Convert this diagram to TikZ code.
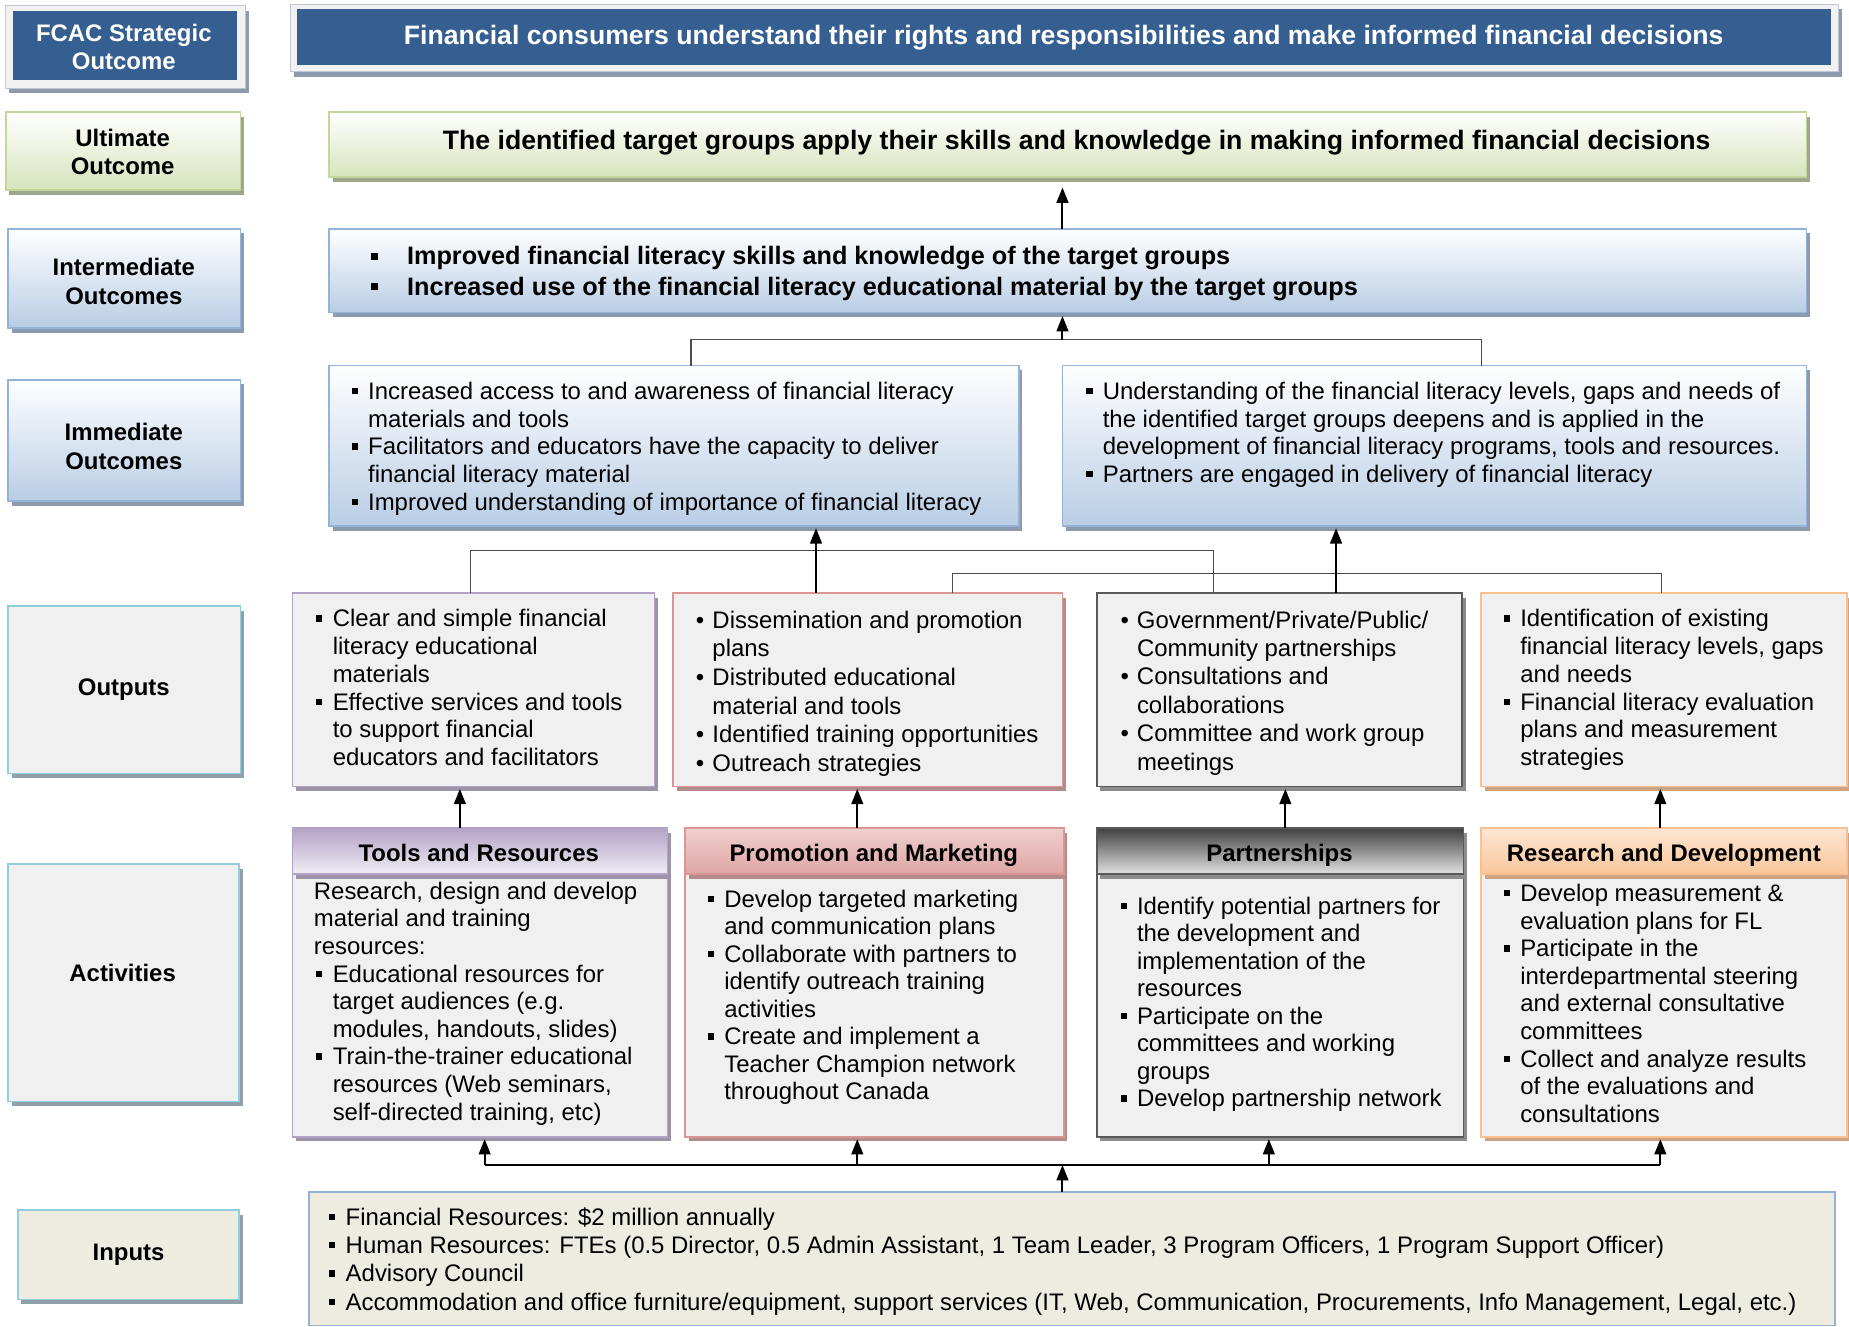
\documentclass[tikz,border=0pt]{standalone}
\usepackage{fontspec}
\setmainfont{Liberation Sans}
\usetikzlibrary{arrows.meta,shadows,calc}

\definecolor{fcacblue}{HTML}{365F91}
\definecolor{framegray}{HTML}{F2F2F2}
\definecolor{frameedge}{HTML}{BFC7D5}
\definecolor{shadowgray}{HTML}{8D9AAD}
\definecolor{greenedge}{HTML}{C3D69B}
\definecolor{greenfill}{HTML}{D7E4BD}
\definecolor{greenshadow}{HTML}{9FA78A}
\definecolor{blueedge}{HTML}{95B3D7}
\definecolor{bluefill}{HTML}{B9CDE5}
\definecolor{tealedge}{HTML}{92CDDC}
\definecolor{tealshadow}{HTML}{8FA0AA}
\definecolor{beigefill}{HTML}{EEECE1}
\definecolor{boxgray}{HTML}{F0F0F0}
\definecolor{purpedge}{HTML}{B3A2C7}
\definecolor{purpshadow}{HTML}{9D94AA}
\definecolor{rededge}{HTML}{D99694}
\definecolor{redshadow}{HTML}{B38B8A}
\definecolor{darkedge}{HTML}{595959}
\definecolor{darkshadow}{HTML}{8C8C8C}
\definecolor{orangeedge}{HTML}{FAC090}
\definecolor{orangeshadow}{HTML}{CFA283}

\newcommand\sqb{\makebox[14pt][l]{\raisebox{0.22em}{\rule{0.26em}{0.26em}}}}
\newcommand\bigsq{\makebox[31pt][l]{\raisebox{0.2em}{\rule{0.28em}{0.28em}}}}
\newcommand\rdb{\makebox[14pt][l]{•}}
\newcommand\ind{\hspace*{14pt}}

\tikzset{
  bx/.style={anchor=north west, inner sep=0pt, outer sep=0pt},
  sh/.style={general shadow={fill=#1, shadow xshift=3pt, shadow yshift=-4pt}},
  lbltxt/.style={inner sep=0pt, align=center, font=\bfseries\fontsize{20.3}{23.5}\selectfont},
  txt/.style={anchor=north west, inner sep=0pt, align=left, font=\fontsize{20.3}{23.5}\selectfont},
  arr/.style={draw=black, line width=1.7pt, -{Triangle[length=13pt,width=10pt]}},
  thinline/.style={draw=black!70, line width=0.9pt},
  botline/.style={draw=black, line width=1.4pt},
  bluebox/.style={bx, top color=white, bottom color=bluefill, draw=blueedge, line width=1.5pt, sh=shadowgray},
  greenbox/.style={bx, top color=white, bottom color=greenfill, draw=greenedge, line width=1.5pt, sh=greenshadow},
  graybox/.style={bx, fill=boxgray, draw=#1, line width=1.5pt},
}

\begin{document}
\begin{tikzpicture}[x=1pt,y=1pt]
\useasboundingbox (0,0) rectangle (1568,-1125);

% ---------- Strategic outcome ----------
\node[bx, minimum width=203pt, minimum height=70pt, fill=framegray, draw=frameedge, line width=0.8pt, sh=shadowgray] (fcacF) at (5,-5) {};
\node[bx, minimum width=190pt, minimum height=59pt, fill=fcacblue] (fcac) at (11,-9) {};
\node[lbltxt, text=white] (fcacT) at (105,-42.5) {\strut FCAC Strategic\\Outcome\strut};

\node[bx, minimum width=1313pt, minimum height=57pt, fill=framegray, draw=frameedge, line width=0.8pt, sh=shadowgray] (banF) at (246,-4) {};
\node[bx, minimum width=1301pt, minimum height=47pt, fill=fcacblue] (ban) at (252,-8) {};
\node[inner sep=0pt, text=white, font=\bfseries\fontsize{22.6}{27}\selectfont] (banT) at (902,-32.5) {\strut Financial consumers understand their rights and responsibilities and make informed financial decisions};

% ---------- Ultimate ----------
\node[greenbox, minimum width=199pt, minimum height=66pt] (ultL) at (5,-95) {};
\node[lbltxt] (ultLT) at (104,-131.5) {\strut Ultimate\\Outcome\strut};
\node[greenbox, minimum width=1253pt, minimum height=55pt] (ult) at (279,-95) {};
\node[inner sep=0pt, font=\bfseries\fontsize{22.6}{27}\selectfont] (ultT) at (913,-121.5) {\strut The identified target groups apply their skills and knowledge in making informed financial decisions};

% ---------- Intermediate ----------
\node[bluebox, minimum width=197pt, minimum height=84pt] (intL) at (7,-194) {};
\node[lbltxt, font=\bfseries\fontsize{20.3}{24}\selectfont] (intLT) at (105,-241) {\strut Intermediate\\Outcomes\strut};
\node[bluebox, minimum width=1253pt, minimum height=71pt] (inter) at (279,-194) {};
\node[txt, font=\bfseries\fontsize{21.4}{26}\selectfont] (interT) at (314,-206) {\bigsq\strut Improved financial literacy skills and knowledge of the target groups\\\bigsq Increased use of the financial literacy educational material by the target groups};

% ---------- Immediate ----------
\node[bluebox, minimum width=197pt, minimum height=103pt] (immL) at (7,-322) {};
\node[lbltxt, font=\bfseries\fontsize{20.3}{24}\selectfont] (immLT) at (105,-381) {\strut Immediate\\Outcomes\strut};
\node[bluebox, minimum width=585pt, minimum height=136pt] (imm1) at (279,-310) {};
\node[txt] (imm1T) at (298,-322) {\sqb\strut Increased access to and awareness of financial literacy\\\ind materials and tools\\\sqb Facilitators and educators have the capacity to deliver\\\ind financial literacy material\\\sqb Improved understanding of importance of financial literacy};
\node[bluebox, minimum width=631pt, minimum height=136pt] (imm2) at (901,-310) {};
\node[txt] (imm2T) at (921,-322) {\sqb\strut Understanding of the financial literacy levels, gaps and needs of\\\ind the identified target groups deepens and is applied in the\\\ind development of financial literacy programs, tools and resources.\\\sqb Partners are engaged in delivery of financial literacy};

% ---------- Outputs ----------
\node[graybox=tealedge, minimum width=197pt, minimum height=142pt, sh=tealshadow] (outL) at (7,-514) {};
\node[lbltxt] (outLT) at (105,-585) {\strut Outputs\strut};

\node[graybox=purpedge, minimum width=307pt, minimum height=164pt, sh=purpshadow] (out1) at (248,-503) {};
\node[txt] (out1T) at (268,-515) {\sqb\strut Clear and simple financial\\\ind literacy educational\\\ind materials\\\sqb Effective services and tools\\\ind to support financial\\\ind educators and facilitators};
\node[graybox=rededge, minimum width=330pt, minimum height=164pt, sh=redshadow] (out2) at (571,-503) {};
\node[txt, font=\fontsize{20.3}{24.3}\selectfont] (out2T) at (590,-515.5) {\rdb\strut Dissemination and promotion\\\ind plans\\\rdb Distributed educational\\\ind material and tools\\\rdb Identified training opportunities\\\rdb Outreach strategies};
\node[graybox=darkedge, minimum width=310pt, minimum height=164pt, sh=darkshadow] (out3) at (930,-503) {};
\node[txt, font=\fontsize{20.3}{24.1}\selectfont] (out3T) at (950,-515.5) {\rdb\strut Government/Private/Public/\\\ind Community partnerships\\\rdb Consultations and\\\ind collaborations\\\rdb Committee and work group\\\ind meetings};
\node[graybox=orangeedge, minimum width=310pt, minimum height=164pt, sh=orangeshadow] (out4) at (1256,-503) {};
\node[txt] (out4T) at (1275,-515) {\sqb\strut Identification of existing\\\ind financial literacy levels, gaps\\\ind and needs\\\sqb Financial literacy evaluation\\\ind plans and measurement\\\ind strategies};

% ---------- Activities ----------
\node[graybox=tealedge, minimum width=196pt, minimum height=201pt, sh=tealshadow] (actL) at (7,-733) {};
\node[lbltxt] (actLT) at (104,-828) {\strut Activities\strut};

\node[graybox=purpedge, minimum width=318pt, minimum height=262pt, sh=purpshadow] (act1) at (248,-702) {};
\node[bx, minimum width=318pt, minimum height=39pt, top color=purpedge, bottom color=purpedge!20!white, draw=purpedge, line width=1.5pt, sh=purpshadow] (act1h) at (248,-702) {};
\node[lbltxt] (act1hT) at (406,-726) {\strut Tools and Resources\strut};
\node[txt, font=\fontsize{20.3}{23.4}\selectfont] (act1T) at (268,-746) {\hspace*{-2pt}\strut Research, design and develop\\\hspace*{-2pt}material and training\\\hspace*{-2pt}resources:\\\sqb Educational resources for\\\ind target audiences (e.g.\\\ind modules, handouts, slides)\\\sqb Train-the-trainer educational\\\ind resources (Web seminars,\\\ind self-directed training, etc)};

\node[graybox=rededge, minimum width=321pt, minimum height=262pt, sh=redshadow] (act2) at (581,-702) {};
\node[bx, minimum width=321pt, minimum height=39pt, top color=rededge!45!white, bottom color=rededge!85!white, draw=rededge, line width=1.5pt, sh=redshadow] (act2h) at (581,-702) {};
\node[lbltxt] (act2hT) at (741,-726) {\strut Promotion and Marketing\strut};
\node[txt, font=\fontsize{20.3}{23.3}\selectfont] (act2T) at (600,-753) {\sqb\strut Develop targeted marketing\\\ind and communication plans\\\sqb Collaborate with partners to\\\ind identify outreach training\\\ind activities\\\sqb Create and implement a\\\ind Teacher Champion network\\\ind throughout Canada};

\node[graybox=darkedge, minimum width=311pt, minimum height=262pt, sh=darkshadow] (act3) at (930,-702) {};
\node[bx, minimum width=311pt, minimum height=39pt, top color=black!75, bottom color=black!12, draw=darkedge, line width=1.5pt, sh=darkshadow] (act3h) at (930,-702) {};
\node[lbltxt] (act3hT) at (1085,-726) {\strut Partnerships\strut};
\node[txt, font=\fontsize{20.3}{23.3}\selectfont] (act3T) at (950,-759) {\sqb\strut Identify potential partners for\\\ind the development and\\\ind implementation of the\\\ind resources\\\sqb Participate on the\\\ind committees and working\\\ind groups\\\sqb Develop partnership network};

\node[graybox=orangeedge, minimum width=310pt, minimum height=262pt, sh=orangeshadow] (act4) at (1256,-702) {};
\node[bx, minimum width=310pt, minimum height=39pt, top color=orangeedge!40!white, bottom color=orangeedge!90!white, draw=orangeedge, line width=1.5pt, sh=orangeshadow] (act4h) at (1256,-702) {};
\node[lbltxt] (act4hT) at (1411,-726) {\strut Research and Development\strut};
\node[txt, font=\fontsize{20.3}{23.4}\selectfont] (act4T) at (1275,-748) {\sqb\strut Develop measurement \&\\\ind evaluation plans for FL\\\sqb Participate in the\\\ind interdepartmental steering\\\ind and external consultative\\\ind committees\\\sqb Collect and analyze results\\\ind of the evaluations and\\\ind consultations};

% ---------- Inputs ----------
\node[bx, minimum width=188pt, minimum height=76pt, fill=beigefill, draw=tealedge, line width=1.5pt, sh=tealshadow] (inL) at (15,-1026) {};
\node[lbltxt] (inLT) at (109,-1064) {\strut Inputs\strut};
\node[bx, minimum width=1294pt, minimum height=113pt, fill=beigefill, draw=blueedge, line width=1.5pt] (inp) at (262,-1011) {};
\node[txt, font=\fontsize{20.3}{24}\selectfont] (inpT) at (279,-1022) {\sqb\strut Financial Resources: \$2 million annually\\\sqb Human Resources: FTEs (0.5 Director, 0.5 Admin Assistant, 1 Team Leader, 3 Program Officers, 1 Program Support Officer)\\\sqb Advisory Council\\\sqb Accommodation and office furniture/equipment, support services (IT, Web, Communication, Procurements, Info Management, Legal, etc.)};

% ---------- Connectors ----------
% intermediate -> ultimate
\coordinate (jI) at (901,-288);
\draw[arr] (inter.north -| jI) -- ([yshift=-9pt]ult.south -| jI);
% immediate -> intermediate
\draw[thinline] ([xshift=14.5pt]imm1.north) |- (jI) -| ([xshift=39.5pt]imm2.north);
\draw[arr] (jI) -- ([yshift=-3pt]inter.south -| jI);
% outputs -> immediate
\coordinate (oA) at ([xshift=-2.5pt]out1.north);
\coordinate (oB) at ([xshift=-44pt]out2.north);
\coordinate (oC) at ([xshift=72pt]out2.north);
\coordinate (oD) at ([xshift=48pt]out3.north);
\draw[thinline] (oA) -- ++(0,36) -| ([xshift=-56pt]out3.north);
\draw[thinline] (oC) -- ++(0,17) -| ([xshift=-2pt]out4.north);
\draw[arr] (oB) -- ([yshift=-2pt]oB |- imm1.south);
\draw[arr] (oD) -- ([yshift=-2pt]oD |- imm2.south);
% activities -> outputs
\coordinate (a1) at ([xshift=-17pt]act1h.north);
\coordinate (a2) at ([xshift=-14.5pt]act2h.north);
\coordinate (a3) at ([xshift=4.5pt]act3h.north);
\coordinate (a4) at ([xshift=-3pt]act4h.north);
\draw[arr] (a1) -- ([yshift=-2pt]a1 |- out1.south);
\draw[arr] (a2) -- ([yshift=-2pt]a2 |- out2.south);
\draw[arr] (a3) -- ([yshift=-2pt]a3 |- out3.south);
\draw[arr] (a4) -- ([yshift=-2pt]a4 |- out4.south);
% inputs -> activities
\coordinate (jB) at (901,-988);
\coordinate (q1) at ([xshift=4pt]act1.south);
\coordinate (q2) at ([xshift=-14.5pt]act2.south);
\coordinate (q3) at ([xshift=-9.5pt]act3.south);
\coordinate (q4) at ([xshift=-3pt]act4.south);
\draw[botline] (q1 |- jB) -- (q4 |- jB);
\draw[arr] (inp.north -| jB) -- (jB);
\draw[arr] (q1 |- jB) -- ([yshift=-2pt]q1);
\draw[arr] (q2 |- jB) -- ([yshift=-2pt]q2);
\draw[arr] (q3 |- jB) -- ([yshift=-2pt]q3);
\draw[arr] (q4 |- jB) -- ([yshift=-2pt]q4);
\end{tikzpicture}
\end{document}
